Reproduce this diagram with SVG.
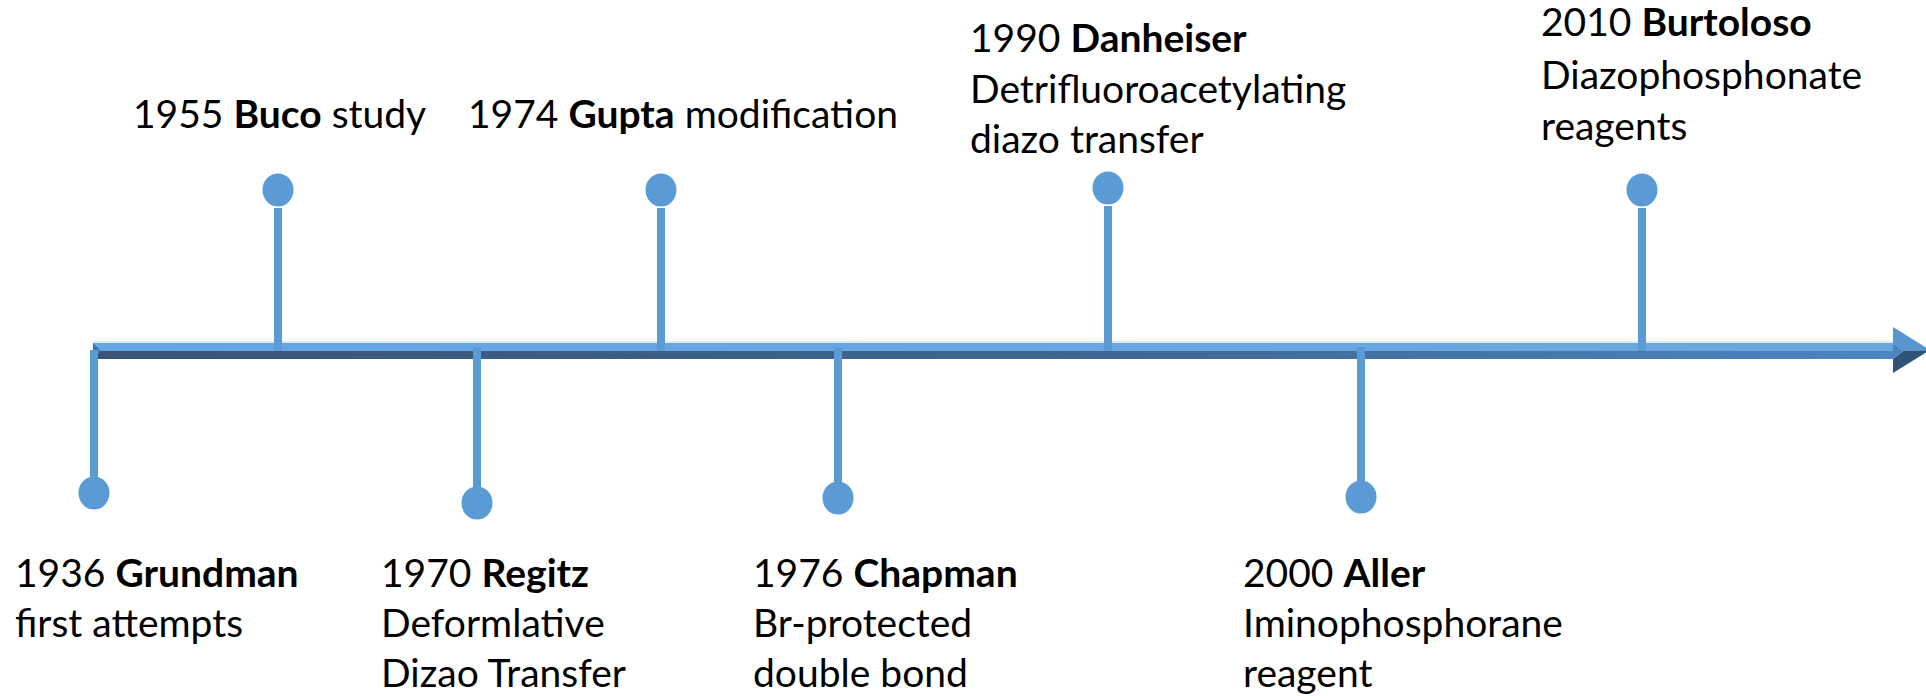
<svg xmlns="http://www.w3.org/2000/svg" width="1926" height="696" viewBox="0 0 1926 696">
<defs>
<linearGradient id="shaftDark" x1="0" y1="0" x2="1" y2="0">
<stop offset="0" stop-color="#385473"/>
<stop offset="0.55" stop-color="#3F6690"/>
<stop offset="1" stop-color="#4C85C2"/>
</linearGradient>
<linearGradient id="shaftLight" x1="0" y1="0" x2="1" y2="0">
<stop offset="0" stop-color="#65A6E6"/>
<stop offset="1" stop-color="#6AA7E0"/>
</linearGradient>
</defs>
<style>
.stem{stroke:#5B9BD5;stroke-width:8;fill:none}
.dot{fill:#5B9BD5}
.t{font-family:Lato,"Liberation Sans",sans-serif;font-size:39px;fill:#000}
.b{font-weight:700}
</style>
<rect width="1926" height="696" fill="#fff"/>
<g id="axis">
<rect x="93" y="341" width="1800" height="2" fill="#DCEBF8"/>
<rect x="93" y="343" width="1800" height="8" fill="url(#shaftLight)"/>
<rect x="93" y="351" width="1800" height="8" fill="url(#shaftDark)"/>
<polygon points="93,343 101,351 93,359" fill="#3F77B4"/>
<polygon points="1893,327 1930,350 1903,351 1893,343" fill="#5896D2"/>
<polygon points="1903,351 1930,350 1893,373 1893,359" fill="#2F5478"/>
<polygon points="1893,343 1903,351 1893,359" fill="#4A84C0"/>
</g>
<g id="connectors">
<line class="stem" x1="94" y1="350" x2="94" y2="480"/>
<line class="stem" x1="278" y1="208" x2="278" y2="351"/>
<line class="stem" x1="477" y1="347" x2="477" y2="490"/>
<line class="stem" x1="661" y1="208" x2="661" y2="351"/>
<line class="stem" x1="838" y1="347" x2="838" y2="485"/>
<line class="stem" x1="1108" y1="206" x2="1108" y2="351"/>
<line class="stem" x1="1361" y1="347" x2="1361" y2="484"/>
<line class="stem" x1="1642" y1="208" x2="1642" y2="351"/>
</g>
<g id="n1936">
<ellipse class="dot" cx="94" cy="493" rx="15.5" ry="16.5"/>
<text class="t" x="15" y="587">1936 <tspan class="b">Grundman</tspan></text>
<text class="t" x="15" y="637">first attempts</text>
</g>
<g id="n1955">
<ellipse class="dot" cx="278" cy="190" rx="15.5" ry="16.5"/>
<text class="t" x="133" y="128">1955 <tspan class="b">Buco</tspan> study</text>
</g>
<g id="n1970">
<ellipse class="dot" cx="477" cy="503" rx="15.5" ry="16.5"/>
<text class="t" x="381" y="587">1970 <tspan class="b">Regitz</tspan></text>
<text class="t" x="381" y="637">Deformlative</text>
<text class="t" x="381" y="687">Dizao Transfer</text>
</g>
<g id="n1974">
<ellipse class="dot" cx="661" cy="190" rx="15.5" ry="16.5"/>
<text class="t" x="468" y="128">1974 <tspan class="b">Gupta</tspan> modification</text>
</g>
<g id="n1976">
<ellipse class="dot" cx="838" cy="498" rx="15.5" ry="16.5"/>
<text class="t" x="753" y="587">1976 <tspan class="b">Chapman</tspan></text>
<text class="t" x="753" y="637">Br-protected</text>
<text class="t" x="753" y="687">double bond</text>
</g>
<g id="n1990">
<ellipse class="dot" cx="1108" cy="188" rx="15.5" ry="16.5"/>
<text class="t" x="970" y="52">1990 <tspan class="b">Danheiser</tspan></text>
<text class="t" x="970" y="103">Detrifluoroacetylating</text>
<text class="t" x="970" y="153">diazo transfer</text>
</g>
<g id="n2000">
<ellipse class="dot" cx="1361" cy="497" rx="15.5" ry="16.5"/>
<text class="t" x="1243" y="587">2000 <tspan class="b">Aller</tspan></text>
<text class="t" x="1243" y="637">Iminophosphorane</text>
<text class="t" x="1243" y="687">reagent</text>
</g>
<g id="n2010">
<ellipse class="dot" cx="1642" cy="190" rx="15.5" ry="16.5"/>
<text class="t" x="1541" y="36">2010 <tspan class="b">Burtoloso</tspan></text>
<text class="t" x="1541" y="89">Diazophosphonate</text>
<text class="t" x="1541" y="140">reagents</text>
</g>
</svg>
